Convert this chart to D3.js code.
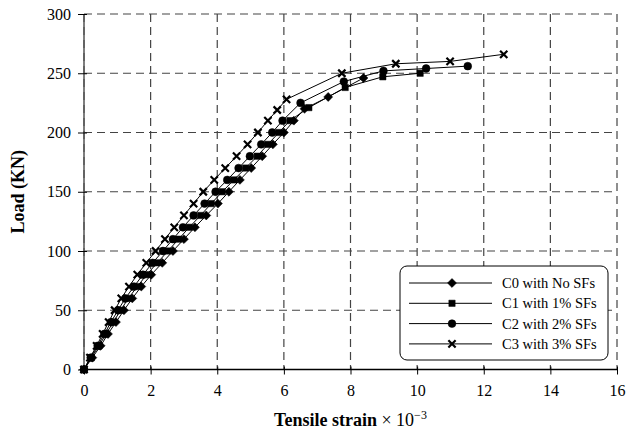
<!DOCTYPE html>
<html>
<head>
  <meta charset="utf-8">
  <style>
    body { margin: 0; background: #fff; }
    text { font-family: "Liberation Serif", "Times New Roman", serif; }
  </style>
  <title>Load vs Tensile strain</title>
</head>
<body>
  <script src="https://d3js.org/d3.v7.min.js"></script>
  <script>
    // data (strain x 10^-3, load in KN)
    var seriesNames = ["C0 with No SFs", "C1 with 1% SFs", "C2 with 2% SFs", "C3 with 3% SFs"];

    var c0Strain = [0, 0.25, 0.5, 0.72, 0.96, 1.2, 1.45, 1.72, 2.02, 2.35, 2.67, 3.0, 3.33, 3.67, 4.02, 4.35, 4.68, 5.02, 5.35, 5.67, 6.0, 6.3, 6.62, 7.33, 8.39];
    var c0Load   = [0, 10, 20, 30, 40, 50, 60, 70, 80, 90, 100, 110, 120, 130, 140, 150, 160, 170, 180, 190, 200, 210, 220, 230, 246];

    var c1Strain = [0, 0.22, 0.45, 0.66, 0.88, 1.1, 1.33, 1.6, 1.88, 2.2, 2.52, 2.84, 3.16, 3.5, 3.82, 4.15, 4.5, 4.85, 5.2, 5.52, 5.85, 6.18, 6.75, 7.84, 8.97, 10.09];
    var c1Load   = [0, 10, 20, 30, 40, 50, 60, 70, 80, 90, 100, 110, 120, 130, 140, 150, 160, 170, 180, 190, 200, 210, 221, 238, 247, 250];

    var c2Strain = [0, 0.2, 0.41, 0.61, 0.81, 1.02, 1.24, 1.5, 1.77, 2.06, 2.37, 2.67, 2.97, 3.29, 3.62, 3.95, 4.3, 4.64, 4.98, 5.32, 5.65, 5.96, 6.5, 7.8, 8.99, 10.27, 11.52];
    var c2Load   = [0, 10, 20, 30, 40, 50, 60, 70, 80, 90, 100, 110, 120, 130, 140, 150, 160, 170, 180, 190, 200, 210, 225, 243, 252, 254, 256];

    var c3Strain = [0, 0.18, 0.38, 0.56, 0.74, 0.92, 1.12, 1.35, 1.6, 1.87, 2.15, 2.43, 2.71, 3.0, 3.29, 3.58, 3.91, 4.24, 4.58, 4.91, 5.22, 5.52, 5.8, 6.08, 7.74, 9.36, 10.99, 12.6];
    var c3Load   = [0, 10, 20, 30, 40, 50, 60, 70, 80, 90, 100, 110, 120, 130, 140, 150, 160, 170, 180, 190, 200, 210, 219, 228, 250, 258, 260, 266];

    var xTicks = [0, 2, 4, 6, 8, 10, 12, 14, 16];
    var yTicks = [0, 50, 100, 150, 200, 250, 300];

    var width = 626
    var height = 433
    var margin = {top: 14, right: 9, bottom: 63.5, left: 84},
        container_width = width - margin.left - margin.right,
        container_height = height - margin.top - margin.bottom;

    var x = d3.scaleLinear().domain([0, 16]).range([0, container_width])
    var y = d3.scaleLinear().domain([0, 300]).range([container_height, 0])

    var svg = d3.select("body").append("svg")
                .attr("width", width)
                .attr("height", height)

    var g = svg.append("g")
               .attr("transform", "translate(" + margin.left + "," + margin.top + ")")

    // dashed grid
    g.selectAll(".vgrid").data(xTicks).enter().append("line")
      .attr("x1", function (d) { return x(d) }).attr("x2", function (d) { return x(d) })
      .attr("y1", 0).attr("y2", container_height)
      .attr("stroke", "#444").attr("stroke-width", 1.2).attr("stroke-dasharray", "8,5")
    g.selectAll(".hgrid").data(yTicks).enter().append("line")
      .attr("x1", 0).attr("x2", container_width)
      .attr("y1", function (d) { return y(d) }).attr("y2", function (d) { return y(d) })
      .attr("stroke", "#444").attr("stroke-width", 1.2).attr("stroke-dasharray", "8,5")

    // axes
    var xAxis = d3.axisBottom(x).tickValues(xTicks).tickSize(5).tickPadding(10)
    var yAxis = d3.axisLeft(y).tickValues(yTicks).tickSize(6).tickPadding(7)

    var gx = g.append("g")
      .attr("transform", "translate(0," + container_height + ")")
      .call(xAxis)
    var gy = g.append("g").call(yAxis)

    gx.select(".domain").attr("d", "M0,0H" + container_width).attr("stroke", "#000").attr("stroke-width", 1.3)
    gy.select(".domain").attr("d", "M0,0V" + container_height).attr("stroke", "#555").attr("stroke-width", 1.5)
    gy.selectAll(".tick line").attr("x2", -6).attr("x1", 3)
    gx.selectAll(".tick line").attr("y1", -3)
    svg.selectAll(".tick text")
      .style("font-family", "'Liberation Serif', serif")
      .style("font-size", "16px")
      .attr("fill", "#000")

    // series (diamond = square turned 45 degrees)
    var series = [
      {strain: c0Strain, load: c0Load, symbol: d3.symbolSquare, size: 40, rot: 45, fill: true},
      {strain: c1Strain, load: c1Load, symbol: d3.symbolSquare, size: 40, rot: 0, fill: true},
      {strain: c2Strain, load: c2Load, symbol: d3.symbolCircle, size: 48, rot: 0, fill: true},
      {strain: c3Strain, load: c3Load, symbol: d3.symbolX || d3.symbolCross, size: 36, rot: 0, fill: false}
    ]

    var line = d3.line()
      .x(function (d) { return x(d[0]) })
      .y(function (d) { return y(d[1]) })

    series.forEach(function (s) {
      var pts = s.strain.map(function (v, i) { return [v, s.load[i]] })
      g.append("path")
        .attr("d", line(pts))
        .attr("fill", "none")
        .attr("stroke", "#000")
        .attr("stroke-width", 1)
      var sym = d3.symbol().type(s.symbol).size(s.size)
      g.selectAll(null).data(pts).enter().append("path")
        .attr("transform", function (d) { return "translate(" + x(d[0]) + "," + y(d[1]) + ") rotate(" + s.rot + ")" })
        .attr("d", sym)
        .attr("fill", s.fill ? "#000" : "none")
        .attr("stroke", "#000")
        .attr("stroke-width", s.fill ? 0.5 : 2.2)
    })

    // legend
    var lg = svg.append("g")
    lg.append("rect")
      .attr("x", 400).attr("y", 266).attr("width", 208).attr("height", 94)
      .attr("rx", 7).attr("ry", 7)
      .attr("fill", "#fff").attr("stroke", "#000").attr("stroke-width", 1)

    series.forEach(function (s, i) {
      var ly = 283 + i * 20.3
      lg.append("line")
        .attr("x1", 409).attr("x2", 492).attr("y1", ly).attr("y2", ly)
        .attr("stroke", "#000").attr("stroke-width", 1)
      lg.append("path")
        .attr("transform", "translate(452," + ly + ") rotate(" + s.rot + ")")
        .attr("d", d3.symbol().type(s.symbol).size(s.size))
        .attr("fill", s.fill ? "#000" : "none")
        .attr("stroke", "#000")
        .attr("stroke-width", s.fill ? 0.5 : 2.2)
      lg.append("text")
        .attr("x", 502).attr("y", ly + 5)
        .style("font-size", "14.5px")
        .text(seriesNames[i])
    })

    // axis titles
    svg.append("text")
      .attr("text-anchor", "middle")
      .attr("transform", "translate(24," + (margin.top + container_height / 2) + ") rotate(-90)")
      .style("font-size", "18px")
      .style("font-weight", "bold")
      .text("Load (KN)")

    var xt = svg.append("text")
      .attr("text-anchor", "middle")
      .attr("x", margin.left + container_width / 2)
      .attr("y", 426)
      .style("font-size", "18px")
    xt.append("tspan").style("font-weight", "bold").text("Tensile strain")
    xt.append("tspan").text(" \u00d7 10")
    xt.append("tspan").attr("dy", -7).style("font-size", "12px").text("\u22123")
  </script>
</body>
</html>
